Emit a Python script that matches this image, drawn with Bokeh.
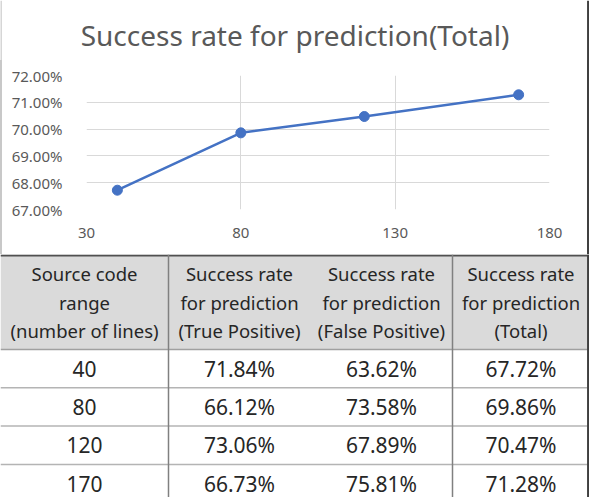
from bokeh.plotting import figure
from bokeh.models import Range1d, FixedTicker, NumeralTickFormatter, InlineStyleSheet
from bokeh.core.properties import value
from bokeh.embed import file_html
from bokeh.resources import INLINE

# ---- data ----
line_counts = [40, 80, 120, 170]
tp_rate = [71.84, 66.12, 73.06, 66.73]
fp_rate = [63.62, 73.58, 67.89, 75.81]
total_rate = [67.72, 69.86, 70.47, 71.28]
x_ticks = [30, 80, 130, 180]
y_ticks = [0.67, 0.68, 0.69, 0.70, 0.71, 0.72]
headers = [
    ["Source code", "range", "(number of lines)"],
    ["Success rate", "for prediction", "(True Positive)"],
    ["Success rate", "for prediction", "(False Positive)"],
    ["Success rate", "for prediction", "(Total)"],
]
title_text = "Success rate for prediction(Total)"

FONT = "Noto Sans"
BLUE = "#4472C4"
GRAY_TXT = "#595959"
TXT = "#262626"
LEFT_BORDER = "#c8c8c8"
RIGHT_BORDER = "#404040"
W = 589


def blank_fig(h):
    f = figure(width=W, height=h, x_range=Range1d(0, W), y_range=Range1d(h, 0),
               output_backend="svg", toolbar_location=None, min_border=0,
               x_axis_type=None, y_axis_type=None)
    f.grid.visible = False
    f.outline_line_color = None
    return f


# ---- title band ----
TT_H = 60
tt = blank_fig(TT_H)
tt.text(x=[W / 2], y=[34], text=[title_text], text_align="center", text_baseline="middle",
        text_font=value(FONT), text_font_size="28px", text_color=GRAY_TXT)
tt.segment(x0=[0.5], x1=[0.5], y0=[0], y1=[TT_H], line_color=LEFT_BORDER, line_width=1.5)
tt.segment(x0=[587.8], x1=[587.8], y0=[0], y1=[TT_H], line_color=RIGHT_BORDER, line_width=2.5)

# ---- chart ----
CH_H = 194
p = figure(width=W, height=CH_H, x_range=Range1d(30, 180), y_range=Range1d(0.67, 0.72),
           output_backend="svg", toolbar_location=None,
           min_border_left=86, min_border_right=40, min_border_top=15, min_border_bottom=45)
p.outline_line_color = None
css = (":host::before{content:'';position:absolute;left:0;top:0;width:1.5px;height:100%;"
       "background:" + LEFT_BORDER + ";z-index:10;}"
       ":host::after{content:'';position:absolute;right:0;top:0;width:2.5px;height:100%;"
       "background:" + RIGHT_BORDER + ";z-index:10;}")
p.stylesheets = [InlineStyleSheet(css=css)]

ys = [v / 100 for v in total_rate]
p.line(line_counts, ys, line_color=BLUE, line_width=2.5)
p.scatter(line_counts, ys, size=10, fill_color=BLUE, line_color=BLUE)

p.xaxis.ticker = FixedTicker(ticks=x_ticks)
p.yaxis.ticker = FixedTicker(ticks=y_ticks)
p.yaxis.formatter = NumeralTickFormatter(format="0.00%")
for ax in (p.xaxis, p.yaxis):
    ax.axis_line_color = None
    ax.major_tick_line_color = None
    ax.minor_tick_line_color = None
    ax.major_label_text_font = FONT
    ax.major_label_text_font_size = "15px"
    ax.major_label_text_color = GRAY_TXT
p.xaxis.major_label_standoff = 12
p.yaxis.major_label_standoff = 18
p.xgrid.ticker = FixedTicker(ticks=x_ticks)
p.ygrid.ticker = FixedTicker(ticks=y_ticks)
p.grid.grid_line_color = "#d9d9d9"
p.grid.grid_line_width = 1

# ---- table ----
T_H = 243
t = blank_fig(T_H)

col_edges = [0, 168, 310, 452, 589]
head_h = 95
row_h = 38.3
row_edges = [head_h + i * row_h for i in range(len(line_counts) + 1)]

t.quad(left=[0], right=[W], top=[0], bottom=[head_h], fill_color="#dadada", line_color=None)

hx, hy, ht = [], [], []
for ci, lines in enumerate(headers):
    cx = (col_edges[ci] + col_edges[ci + 1]) / 2
    for li, s in enumerate(lines):
        hx.append(cx)
        hy.append(19 + li * 28.5)
        ht.append(s)
t.text(x=hx, y=hy, text=ht, text_align="center", text_baseline="middle",
       text_font=value(FONT), text_font_size="18.5px", text_color=TXT)

bx, by, bt = [], [], []
cols = [[str(v) for v in line_counts],
        [f"{v:.2f}%" for v in tp_rate],
        [f"{v:.2f}%" for v in fp_rate],
        [f"{v:.2f}%" for v in total_rate]]
for ci, vals in enumerate(cols):
    cx = (col_edges[ci] + col_edges[ci + 1]) / 2
    for ri, s in enumerate(vals):
        bx.append(cx)
        by.append((row_edges[ri] + row_edges[ri + 1]) / 2)
        bt.append(s)
t.text(x=bx, y=by, text=bt, text_align="center", text_baseline="middle",
       text_font=value(FONT), text_font_size="21px", text_color=TXT)

t.segment(x0=[0] * (len(row_edges) - 1), x1=[W] * (len(row_edges) - 1),
          y0=row_edges[1:], y1=row_edges[1:], line_color="#b4b4b4", line_width=1.5)
t.segment(x0=[0], x1=[W], y0=[head_h], y1=[head_h], line_color="#a0a0a0", line_width=1.5)
t.segment(x0=[0], x1=[W], y0=[1], y1=[1], line_color="#505050", line_width=2)
t.segment(x0=[168, 452], x1=[168, 452], y0=[0, 0], y1=[T_H, T_H], line_color="#808080", line_width=1.5)
t.segment(x0=[587.8], x1=[587.8], y0=[0], y1=[T_H], line_color=RIGHT_BORDER, line_width=2.5)

open("out.html", "w").write(file_html([tt, p, t], INLINE))
